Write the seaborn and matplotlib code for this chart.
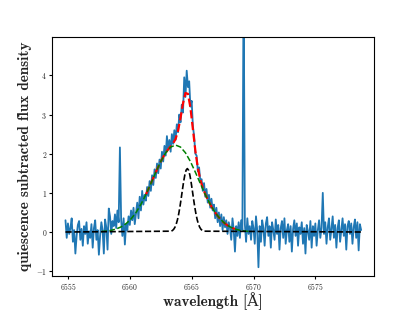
import numpy as np
import matplotlib
matplotlib.use("Agg")
import matplotlib.pyplot as plt
import seaborn as sns

# Observed quiescence-subtracted spectrum, sampled every 0.1 A from 6554.8 to 6578.7
wave_start, wave_stop = 6554.8, 6578.7
flux = [
    0.30, -0.15, 0.22, -0.05, 0.10, 0.35, -0.25, 0.05, -0.55, -0.10,
    0.18, 0.28, -0.20, 0.08, -0.35, 0.15, -0.05, 0.25, -0.30, 0.02,
    -0.15, 0.20, -0.40, 0.10, 0.30, -0.20, 0.05, -0.58, -0.10, 0.25,
    0.05, -0.55, 0.32, 0.12, -0.45, 0.60, 0.40, -0.05, 0.28, 0.15,
    0.45, 0.10, 0.55, 0.25, 2.16, 0.30, -0.10, 0.35, -0.32, 0.20,
    0.05, 0.40, 0.18, 0.55, 0.30, 0.62, 0.20, 0.48, 0.75, 0.35,
    0.90, 0.55, 1.05, 0.70, 0.95, 0.80, 1.15, 0.92, 1.30, 1.05,
    1.45, 1.20, 1.60, 1.38, 1.75, 1.50, 1.85, 1.62, 2.05, 1.80,
    2.20, 1.95, 2.45, 2.10, 2.35, 2.05, 2.50, 2.25, 2.60, 2.35,
    2.75, 2.55, 3.00, 2.80, 3.25, 3.05, 3.95, 3.45, 4.12, 3.70,
    3.85, 3.20, 3.35, 2.70, 2.45, 2.00, 1.95, 1.55, 1.65, 1.30,
    1.35, 1.05, 1.25, 0.90, 1.10, 0.75, 0.95, 0.62, 0.85, 0.55,
    0.70, 0.35, 0.62, 0.25, 0.50, 0.15, 0.45, 0.05, 0.38, 0.12,
    0.30, -0.05, 0.25, 0.10, -0.20, 0.35, 0.05, -0.50, 0.15, -0.10,
    0.25, -0.15, 0.30, 0.05, 6.50, 0.20, -0.25, 0.35, -0.05, 0.15,
    -0.20, 0.28, 0.10, -0.30, 0.40, 0.05, -0.90, 0.15, -0.25, 0.30,
    0.10, -0.35, 0.22, 0.38, -0.10, 0.15, -0.40, 0.25, 0.05, -0.20,
    0.32, -0.05, 0.18, -0.45, 0.10, 0.28, -0.15, 0.35, -0.30, 0.05,
    0.20, -0.25, 0.15, -0.50, 0.08, 0.30, -0.10, 0.22, -0.35, 0.12,
    -0.05, 0.25, -0.30, 0.10, -0.55, 0.18, 0.02, -0.20, 0.28, -0.40,
    0.15, -0.10, 0.22, -0.35, 0.05, 0.30, -0.15, 0.10, 1.00, -0.05,
    0.25, -0.30, 0.12, 0.35, -0.20, 0.08, 0.40, -0.15, 0.18, -0.40,
    0.10, 0.30, -0.25, 0.05, 0.35, -0.10, 0.20, -0.45, 0.15, 0.28,
    -0.05, 0.22, -0.30, 0.12, 0.32, -0.15, 0.25, -0.47, 0.20, 0.05,
]

# Broad component fit (green), every 0.4 A from 6557.7 to 6569.7
broad_start, broad_stop = 6557.7, 6569.7
broad = [
    0.012, 0.023, 0.043, 0.077, 0.131, 0.214, 0.334, 0.497, 0.706, 0.957,
    1.238, 1.527, 1.799, 2.022, 2.169, 2.220, 2.169, 2.022, 1.799, 1.527,
    1.238, 0.957, 0.706, 0.497, 0.334, 0.214, 0.131, 0.077, 0.043, 0.023,
    0.012,
]

# Narrow component fit (black), every 0.1 A from 6563.35 to 6565.95
narrow_start, narrow_stop = 6563.35, 6565.95
narrow = [
    0.021, 0.039, 0.071, 0.122, 0.200, 0.310, 0.457, 0.639, 0.849, 1.071,
    1.284, 1.461, 1.579, 1.620, 1.579, 1.461, 1.284, 1.071, 0.849, 0.639,
    0.457, 0.310, 0.200, 0.122, 0.071, 0.039, 0.021,
]

# Total fit (red), every 0.2 A from 6561.3 to 6568.5
total_start, total_stop = 6561.3, 6568.5
total = [
    0.957, 1.095, 1.238, 1.383, 1.527, 1.667, 1.799, 1.918, 2.022, 2.109,
    2.184, 2.260, 2.377, 2.586, 2.910, 3.286, 3.550, 3.528, 3.177, 2.627,
    2.071, 1.633, 1.332, 1.124, 0.964, 0.827, 0.706, 0.596, 0.497, 0.410,
    0.334, 0.269, 0.214, 0.169, 0.131, 0.101, 0.077,
]

wave = np.linspace(wave_start, wave_stop, len(flux))
broad_wave = np.linspace(broad_start, broad_stop, len(broad))
narrow_wave = np.linspace(narrow_start, narrow_stop, len(narrow))
total_wave = np.linspace(total_start, total_stop, len(total))

# the narrow line sits on a flat zero baseline over the whole spectrum
narrow_wave = np.concatenate([[wave_start], narrow_wave, [wave_stop]])
narrow = np.concatenate([[0.0], narrow, [0.0]])

sns.set_style("ticks")
plt.rcParams["mathtext.fontset"] = "cm"
plt.rcParams["font.family"] = ["cmr10", "DejaVu Serif"]
plt.rcParams["axes.formatter.use_mathtext"] = True
plt.rcParams["axes.unicode_minus"] = True

fig, ax = plt.subplots(figsize=(4.15, 3.11), dpi=100)
fig.subplots_adjust(left=0.125, right=0.9, bottom=0.113, top=0.881)

sns.lineplot(x=wave, y=flux, color="#1f77b4", linewidth=1.3, ax=ax, zorder=1)
sns.lineplot(x=total_wave, y=total, color="red", linestyle="--", linewidth=1.6, ax=ax, zorder=2)
sns.lineplot(x=broad_wave, y=broad, color="green", linestyle="--", linewidth=1.1, ax=ax, zorder=3)
sns.lineplot(x=narrow_wave, y=narrow, color="black", linestyle="--", linewidth=1.2, ax=ax, zorder=4)

ax.set_xlim(6553.7, 6579.7)
ax.set_ylim(-1.12, 4.98)
ax.set_xticks([6555, 6560, 6565, 6570, 6575])
ax.set_yticks([-1, 0, 1, 2, 3, 4])
ax.tick_params(labelsize=5.5, length=2.5, width=0.8, pad=1.0, color="black")
for spine in ax.spines.values():
    spine.set_color("black")
    spine.set_linewidth(0.8)

label_font = ["cmb10", "DejaVu Serif"]
ax.set_xlabel("wavelength [Å]", fontsize=11, family=label_font, va="baseline")
ax.set_ylabel("quiescence subtracted flux density", fontsize=11, family=label_font, va="center")
ax.xaxis.set_label_coords(0.5, -0.125)
ax.yaxis.set_label_coords(-0.085, 0.5)

plt.savefig("out.png", dpi=100)
